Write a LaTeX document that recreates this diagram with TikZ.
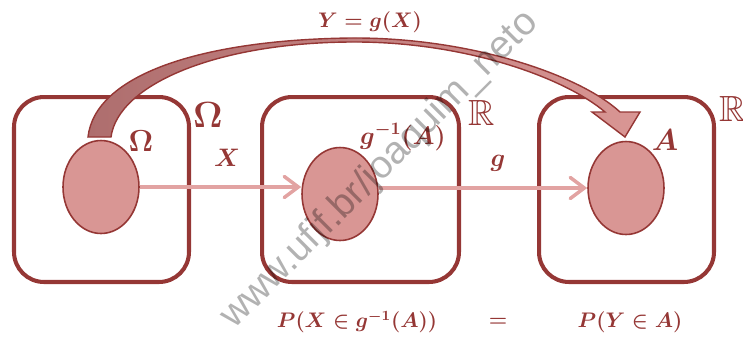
\documentclass[tikz,border=0pt]{standalone}
\usepackage{amsmath}
\usepackage{amssymb}
\usepackage{fontspec}
\newfontfamily\wmfont{Liberation Sans}
\usepackage{tikz}
\usetikzlibrary{arrows.meta, shapes.geometric}
\definecolor{setred}{HTML}{953735}
\definecolor{evfill}{HTML}{D99694}
\definecolor{mapline}{HTML}{E2A3A2}
\definecolor{arrowdark}{HTML}{AE6E6E}

\begin{document}
\begin{tikzpicture}[x=0.02cm, y=-0.02cm,
    space/.style={draw=setred, line width=2.3pt, rounded corners=0.6cm},
    event/.style={ellipse, draw=setred, fill=evfill, line width=0.9pt,
                  minimum width=1.52cm, minimum height=1.86cm, inner sep=0pt},
    map/.style={-{Straight Barb[length=8pt, width=12pt, line cap=round]},
                draw=mapline, line width=2pt},
    lab/.style={text=setred, font=\Large\boldmath, inner sep=0pt}
]
\useasboundingbox (0,0) rectangle (743,336);
% sample space and the two copies of R
\node[space, minimum width=3.5cm,  minimum height=3.7cm] (S1) at (101.5,189.5) {};
\node[space, minimum width=3.94cm, minimum height=3.7cm] (S2) at (360.5,189.5) {};
\node[space, minimum width=3.5cm,  minimum height=3.7cm] (S3) at (626.5,189.5) {};
\node[event] (E1) at (101,187) {};
\node[event] (E2) at (340,194) {};
\node[event] (E3) at (626,188) {};
\draw[map] (E1.east) -- (E1.east -| E2.west);
\draw[map] (E2.east |- E3.west) -- (E3.west);
% curved arrow Y = g(X)
\draw[setred, line width=0.8pt, left color=arrowdark, right color=evfill]
    (88,137) .. controls (95,75) and (200,40) .. (350,38)
    .. controls (470,37) and (580,75) .. (620,112)
    -- (640,112) -- (625,137) -- (592,112) -- (605,112)
    .. controls (565,78) and (465,41) .. (350,42)
    .. controls (215,43) and (118,85) .. (111,137) -- cycle;
% labels
\node[lab, font=\huge\boldmath]  (OmegaOut) at (208,115) {$\Omega$};
\node[lab, font=\LARGE\boldmath] (OmegaIn)  at (141,141) {$\Omega$};
\node[lab]                       (Xlab)     at (227,158) {$X$};
\node[lab]                       (ginv)     at (403,137) {$g^{-1}(A)$};
\node[lab, font=\huge]           (R2)       at (482,113) {$\mathbb{R}$};
\node[lab]                       (glab)     at (498,163) {$g$};
\node[lab, font=\LARGE\boldmath] (Alab)     at (665,140) {$A$};
\node[lab, font=\huge]           (R3)       at (733,109) {$\mathbb{R}$};
\node[lab, font=\large\boldmath] (Ylab)     at (370,22)  {$Y = g(X)$};
\node[lab, font=\large\boldmath] (PX)       at (357,322) {$P(X\in g^{-1}(A))$};
\node[lab, font=\large\boldmath] (eq)       at (498,322) {$=$};
\node[lab, font=\large\boldmath] (PY)       at (630,322) {$P(Y\in A)$};
% watermark
\node[font=\wmfont\fontsize{22}{26}\selectfont, text=black, text opacity=0.3,
      rotate=45] (wm) at (380,170) {www.ufjf.br/joaquim\_neto};
\end{tikzpicture}
\end{document}
